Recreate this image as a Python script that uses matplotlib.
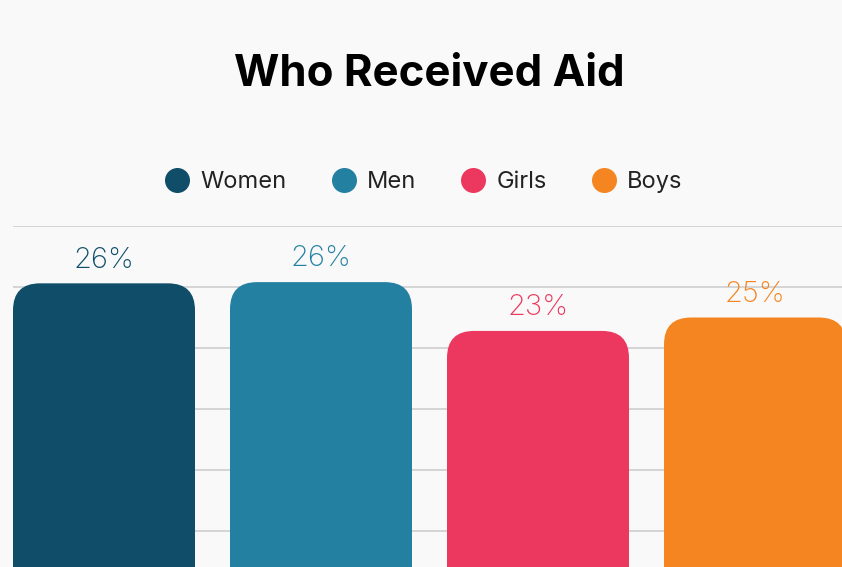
import matplotlib.pyplot as plt
from matplotlib.patches import FancyBboxPatch
from matplotlib.lines import Line2D

groups = ["Women", "Men", "Girls", "Boys"]
heights = [25.3, 25.4, 21.4, 22.5]
labels = ["26%", "26%", "23%", "25%"]
colors = ["#0f4d69", "#2480a1", "#ec385e", "#f58520"]

bg = "#f9f9f9"
plt.rcParams["font.family"] = ["Inter", "DejaVu Sans"]

fig = plt.figure(figsize=(8.42, 5.67), dpi=100, facecolor=bg)
# axes runs past the bottom of the figure so the bars are cut off
ax = fig.add_axes([13 / 842, -25 / 567, 829 / 842, 366 / 567], facecolor=bg)

width = 182 / 217
ax.set_xlim(-width / 2, -width / 2 + 829 / 217)
ax.set_ylim(0, 30)
ax.set_yticks([0, 5, 10, 15, 20, 25, 30])
ax.yaxis.grid(True, color="#d2d2d2", linewidth=1.3)
ax.set_axisbelow(True)
ax.tick_params(left=False, bottom=False, labelleft=False, labelbottom=False)
for s in ax.spines.values():
    s.set_visible(False)

# rounded tops: keep corners circular despite the axes aspect
aspect = 217 / 12.2
r = 27 / 217
for i, h in enumerate(heights):
    patch = FancyBboxPatch((i - width / 2, -5), width, h + 5,
                           boxstyle=f"round,pad=0,rounding_size={r}",
                           mutation_aspect=aspect, facecolor=colors[i],
                           edgecolor="none", zorder=3)
    ax.add_patch(patch)
    ax.annotate(labels[i], (i, h), xytext=(0, 7), textcoords="offset points",
                ha="center", va="bottom", fontsize=21, color=colors[i],
                fontweight="light", zorder=4)

fig.text(429 / 842, 1 - 75 / 567, "Who Received Aid", ha="center", va="center",
         fontsize=31.5, fontweight="bold", color="black")

handles = [Line2D([], [], marker="o", linestyle="none", markersize=18,
                  markerfacecolor=c, markeredgecolor="none") for c in colors]
fig.legend(handles, groups, loc="center", bbox_to_anchor=(420 / 842, 1 - 182 / 567),
           ncol=4, frameon=False, fontsize=17, handlelength=1.66,
           handletextpad=0.15, columnspacing=1.6, labelcolor="#222222")

fig.savefig("out.png", facecolor=bg)
